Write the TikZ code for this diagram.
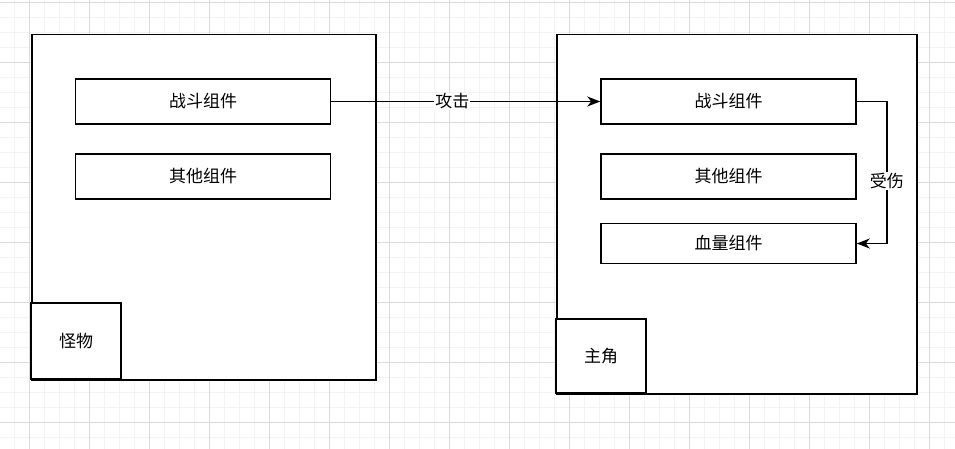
\documentclass[tikz,border=0pt]{standalone}
\usepackage{fontspec}
\newfontfamily\cjk{Noto Sans CJK SC}
\usetikzlibrary{arrows.meta}
\definecolor{gridminor}{HTML}{F3F3F3}
\definecolor{gridmajor}{HTML}{DADADA}
\tikzset{
	frame/.style={draw=black, line width=1.5pt, fill=white, anchor=north west, inner sep=0pt},
	comp/.style={draw=black, line width=1.5pt, fill=white, minimum width=255pt, minimum height=45pt, inner sep=0pt, font=\cjk\fontsize{17}{20}\selectfont},
	tag/.style={draw=black, line width=1.5pt, fill=white, minimum width=90pt, inner sep=0pt, font=\cjk\fontsize{17}{20}\selectfont},
	link/.style={line width=1.5pt, -{Stealth[length=13pt,width=10pt,inset=4pt]}},
	linklabel/.style={fill=white, inner sep=1pt, font=\cjk\fontsize{17}{20}\selectfont}
}
\begin{document}
\begin{tikzpicture}[x=1pt,y=-1pt]
				\useasboundingbox[fill=white] (0,0) rectangle (955,449);
				% background grid
				\foreach \i in {0,...,63}
				{
					\draw[gridminor, line width=1pt] (14.3+15*\i,0) -- (14.3+15*\i,449);
				}
				\foreach \i in {0,...,29}
				{
					\draw[gridminor, line width=1pt] (0,2.3+15*\i) -- (955,2.3+15*\i);
				}
				\foreach \i in {0,...,15}
				{
					\draw[gridmajor, line width=1pt] (29.3+60*\i,0) -- (29.3+60*\i,449);
				}
				\foreach \i in {0,...,7}
				{
					\draw[gridmajor, line width=1pt] (0,2.3+60*\i) -- (955,2.3+60*\i);
				}
				% monster
				\node[frame, minimum width=344pt, minimum height=345pt] (monster) at (31,34) {};
				\node[comp] (matk) at (203,101.5) {战斗组件};
				\node[comp] (mother) at (203,176.5) {其他组件};
				\node[tag, minimum height=76pt] (mname) at (76,341) {怪物};
				% hero
				\node[frame, minimum width=360pt, minimum height=359pt] (hero) at (556,34) {};
				\node[comp] (hatk) at (728.5,101.5) {战斗组件};
				\node[comp] (hother) at (728.5,176.5) {其他组件};
				\node[comp, minimum height=40pt] (hhp) at (728.5,243.5) {血量组件};
				\node[tag, minimum height=74pt] (hname) at (601,356) {主角};
				% links
				\draw[link] (matk.east) -- node[linklabel, pos=0.45] {攻击} (hatk.west);
				\draw[link] (hatk.east) -- ++(30,0) |- node[linklabel, pos=0.28] {受伤} (hhp.east);
\end{tikzpicture}
\end{document}
